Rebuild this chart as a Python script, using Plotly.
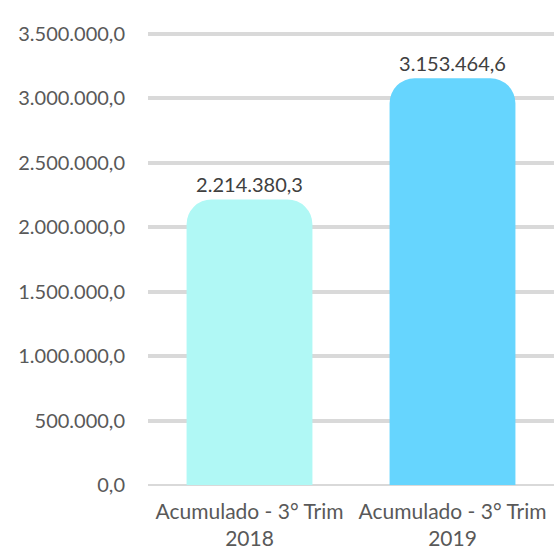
import plotly.graph_objects as go

categories = ["Acumulado - 3° Trim<br>2018", "Acumulado - 3° Trim<br>2019"]
values = [2214380.3, 3153464.6]
colors = ["#B0F8F5", "#66D5FE"]
y_ticks = [0, 500000, 1000000, 1500000, 2000000, 2500000, 3000000, 3500000]

FONT = "Lato, 'Open Sans', sans-serif"

fig = go.Figure(
    go.Bar(
        x=categories,
        y=values,
        marker=dict(color=colors, line=dict(width=0), cornerradius=25),
        text=values,
        texttemplate="%{y:,.1f}",
        textposition="outside",
        cliponaxis=False,
        textfont=dict(size=20, color="#404040", family=FONT),
        hoverinfo="skip",
    )
)

fig.update_layout(
    width=554,
    height=554,
    margin=dict(l=148, r=0, t=31, b=69),
    paper_bgcolor="white",
    plot_bgcolor="white",
    separators=",.",
    bargap=0.38,
    showlegend=False,
    font=dict(family=FONT, size=20, color="#595959"),
)

fig.update_yaxes(
    range=[0, 3520000],
    tickvals=y_ticks,
    tickformat=",.1f",
    showgrid=True,
    gridcolor="#D9D9D9",
    gridwidth=4,
    zeroline=True,
    zerolinecolor="#D9D9D9",
    zerolinewidth=1.5,
    showline=False,
    ticks="",
    automargin=False,
    ticklabelstandoff=22,
    tickfont=dict(size=20, color="#595959", family=FONT),
)

fig.update_xaxes(
    showgrid=False,
    showline=False,
    ticks="",
    automargin=False,
    ticklabelstandoff=12,
    tickfont=dict(size=21, color="#595959", family=FONT),
)

fig.write_html(
    "out.html",
    config={"displayModeBar": False, "staticPlot": True},
    post_script="document.body.style.margin='0';document.body.style.overflow='hidden';",
)
